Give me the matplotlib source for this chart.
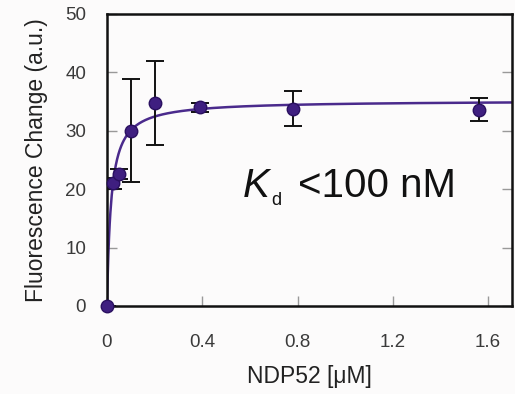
import numpy as np
import matplotlib
matplotlib.use("Agg")
import matplotlib.pyplot as plt

plt.rcParams['font.family'] = ['Liberation Sans', 'DejaVu Sans']

conc = [0.0, 0.025, 0.05, 0.1, 0.2, 0.39, 0.78, 1.56]
signal = [0.0, 21.0, 22.6, 30.0, 34.7, 34.0, 33.8, 33.6]
err = [0.0, 1.0, 0.8, 8.8, 7.2, 0.7, 3.0, 2.0]
bmax = 35.2
kd = 0.017
xticks = [0, 0.4, 0.8, 1.2, 1.6]
xticklabels = ['0', '0.4', '0.8', '1.2', '1.6']
yticks = [0, 10, 20, 30, 40, 50]

fig = plt.figure(figsize=(5.15, 3.94), dpi=100)
fig.patch.set_facecolor('#fcfbfb')
ax = fig.add_axes([107/515, 1-306/394, (512-107)/515, (306-14)/394])
ax.set_facecolor('#fcfbfb')

xf = np.linspace(0, 1.7, 600)
ax.plot(xf, bmax*xf/(kd+xf), color='#4a2a8c', lw=1.8, zorder=2)
ax.errorbar(conc, signal, yerr=err, fmt='none', ecolor='#111111', elinewidth=1.4,
            capsize=6.5, capthick=1.4, zorder=3)
ax.plot(conc, signal, 'o', color='#3f1f80', mec='#2a1060', ms=9, zorder=4, clip_on=False)

ax.set_xlim(0, 1.7)
ax.set_ylim(0, 50)
ax.set_xticks(xticks)
ax.set_xticklabels(xticklabels)
ax.set_yticks(yticks)
for s in ax.spines.values():
    s.set_linewidth(1.8)
    s.set_color('#111111')
ax.tick_params(direction='in', length=7, width=1, color='#999999', labelsize=13.5,
               labelcolor='#3a3a3a', right=True, top=False)
ax.tick_params(axis='x', pad=20)
ax.tick_params(axis='y', pad=15)
ax.set_xlabel('NDP52 [μM]', fontsize=16.5, color='#222222', labelpad=10)
ax.set_ylabel('Fluorescence Change (a.u.)', fontsize=16.5, color='#222222', labelpad=12)

# K_d annotation
ax.text(0.57, 18.7, 'K', fontsize=29, style='italic', color='#111111', va='baseline', ha='left')
ax.text(0.69, 17.3, 'd', fontsize=13, color='#111111', va='baseline', ha='left')
ax.text(0.80, 18.7, '<100 nM', fontsize=29, color='#111111', va='baseline', ha='left')

fig.savefig('out.png', dpi=100, facecolor=fig.get_facecolor())
